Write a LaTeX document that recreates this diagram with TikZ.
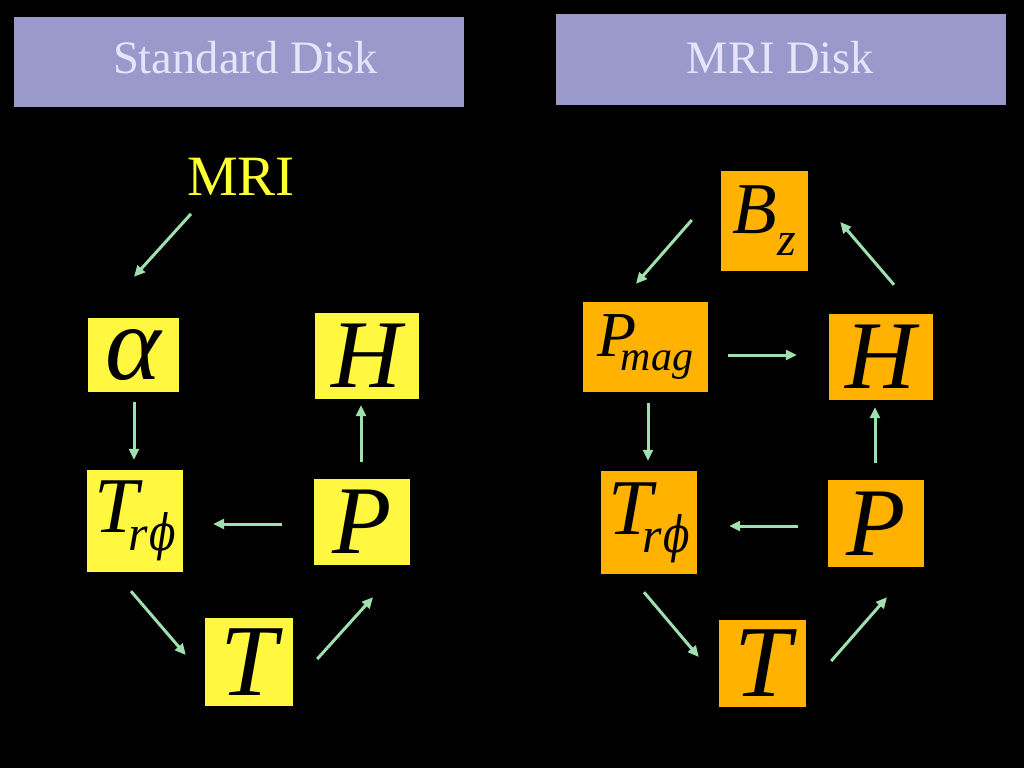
\documentclass[tikz,border=0pt]{standalone}
\usepackage{fontspec}
\setmainfont{Liberation Serif}
\newfontfamily\dvs{DejaVu Serif}
\usetikzlibrary{arrows.meta,calc}
\definecolor{hdr}{RGB}{153,153,204}
\definecolor{hdrtext}{RGB}{228,228,250}
\definecolor{ylw}{RGB}{255,247,64}
\definecolor{org}{RGB}{255,179,0}
\definecolor{arrgreen}{RGB}{160,224,176}
\definecolor{mriyellow}{RGB}{255,255,51}
\newcommand{\rphisub}{\raisebox{-18pt}{\fontsize{50}{52}\selectfont r\kern1pt{\dvs\itshape\scalebox{0.78}[1]{ϕ}}}}
\begin{document}
\begin{tikzpicture}[x=1pt,y=-1pt,
  hdrbox/.style={fill=hdr, inner sep=0pt, minimum width=450pt, minimum height=90pt},
  hdrlabel/.style={inner sep=0pt, anchor=base, text=hdrtext, font=\fontsize{46.5}{50}\selectfont},
  ybox/.style={fill=ylw, inner sep=0pt, text=black},
  obox/.style={fill=org, inner sep=0pt, text=black},
  arr/.style={draw=arrgreen, line width=3pt, -{Triangle[length=11pt,width=10pt]}},
  big/.style={font=\fontsize{97}{100}\selectfont\itshape},
  bigT/.style={font=\fontsize{102}{106}\selectfont\itshape},
  mid/.style={font=\fontsize{79}{82}\selectfont\itshape}]
\fill[black] (0,0) rectangle (1024,768);
% headers
\node[hdrbox] (hL) at (239,62) {};
\node[hdrlabel] (hLt) at ($(hL.center)+(6.5,12)$) {Standard Disk};
\node[hdrbox] (hR) at (781,59.5) {};
\node[hdrlabel] (hRt) at ($(hR.center)+(-0.5,13.5)$) {MRI Disk};
% left panel
\node[inner sep=0pt, text=mriyellow, font=\fontsize{57}{60}\selectfont] (mri) at (241,177) {MRI};
\node[ybox, minimum width=91pt, minimum height=74pt, font=\fontsize{106}{108}\selectfont\itshape] (alpha) at (133.5,355) {α};
\node[ybox, big, minimum width=104pt, minimum height=86pt] (HL) at (367,356) {H};
\node[ybox, mid, minimum width=96pt, minimum height=102pt] (TrL) at (135,521) {T\kern-9pt\rphisub};
\node[ybox, big, minimum width=96pt, minimum height=86pt] (PL) at (362,522) {P};
\node[ybox, bigT, minimum width=88pt, minimum height=88pt] (TL) at (249,662) {T};
% left arrows
\draw[arr] ($(mri.south)+(-50,18)$) -- ($(alpha.north)+(0.5,-41)$);
\draw[arr] ($(alpha.south)+(0.5,10)$) -- ($(TrL.north)+(-1,-10)$);
\draw[arr] ($(PL.north)+(-1,-17)$) -- ($(HL.south)+(-6,6)$);
\draw[arr] ($(PL.west)+(-32,2)$) -- ($(TrL.east)+(30,3)$);
\draw[arr] ($(TrL.south)+(-4,19)$) -- ($(TL.west)+(-19,-7)$);
\draw[arr] ($(TL.east)+(24,-3)$) -- ($(PL.south)+(11,32)$);
% right panel
\node[obox, font=\fontsize{73}{76}\selectfont\itshape, minimum width=87pt, minimum height=100pt] (Bz) at (764.5,221) {B\kern0pt\raisebox{-22pt}{\fontsize{48}{50}\selectfont z}};
\node[obox, minimum width=125pt, minimum height=90pt, font=\fontsize{64}{68}\selectfont\itshape] (Pmag) at (645.5,347) {P\kern-16pt\raisebox{-14pt}{\fontsize{42}{44}\selectfont mag}};
\node[obox, big, minimum width=104pt, minimum height=86pt] (HR) at (881,357) {H};
\node[obox, mid, minimum width=96pt, minimum height=103pt] (TrR) at (649,522.5) {T\kern-9pt\rphisub};
\node[obox, big, minimum width=96pt, minimum height=87pt] (PR) at (876,523.5) {P};
\node[obox, bigT, minimum width=87pt, minimum height=87pt] (TR) at (762.5,663.5) {T};
% right arrows
\draw[arr] ($(Bz.west)+(-29,-1)$) -- ($(Pmag.north)+(-9.5,-18)$);
\draw[arr] ($(HR.north)+(13,-29)$) -- ($(Bz.east)+(32,1)$);
\draw[arr] ($(Pmag.east)+(20,8)$) -- ($(HR.west)+(-32,-2)$);
\draw[arr] ($(Pmag.south)+(2.5,11)$) -- ($(TrR.north)+(-1,-10)$);
\draw[arr] ($(PR.north)+(-1,-17)$) -- ($(HR.south)+(-6,7)$);
\draw[arr] ($(PR.west)+(-30,2.5)$) -- ($(TrR.east)+(32,3.5)$);
\draw[arr] ($(TrR.south)+(-5,18)$) -- ($(TR.west)+(-20,-6.5)$);
\draw[arr] ($(TR.east)+(25,-2.5)$) -- ($(PR.south)+(11,30)$);
\end{tikzpicture}
\end{document}
